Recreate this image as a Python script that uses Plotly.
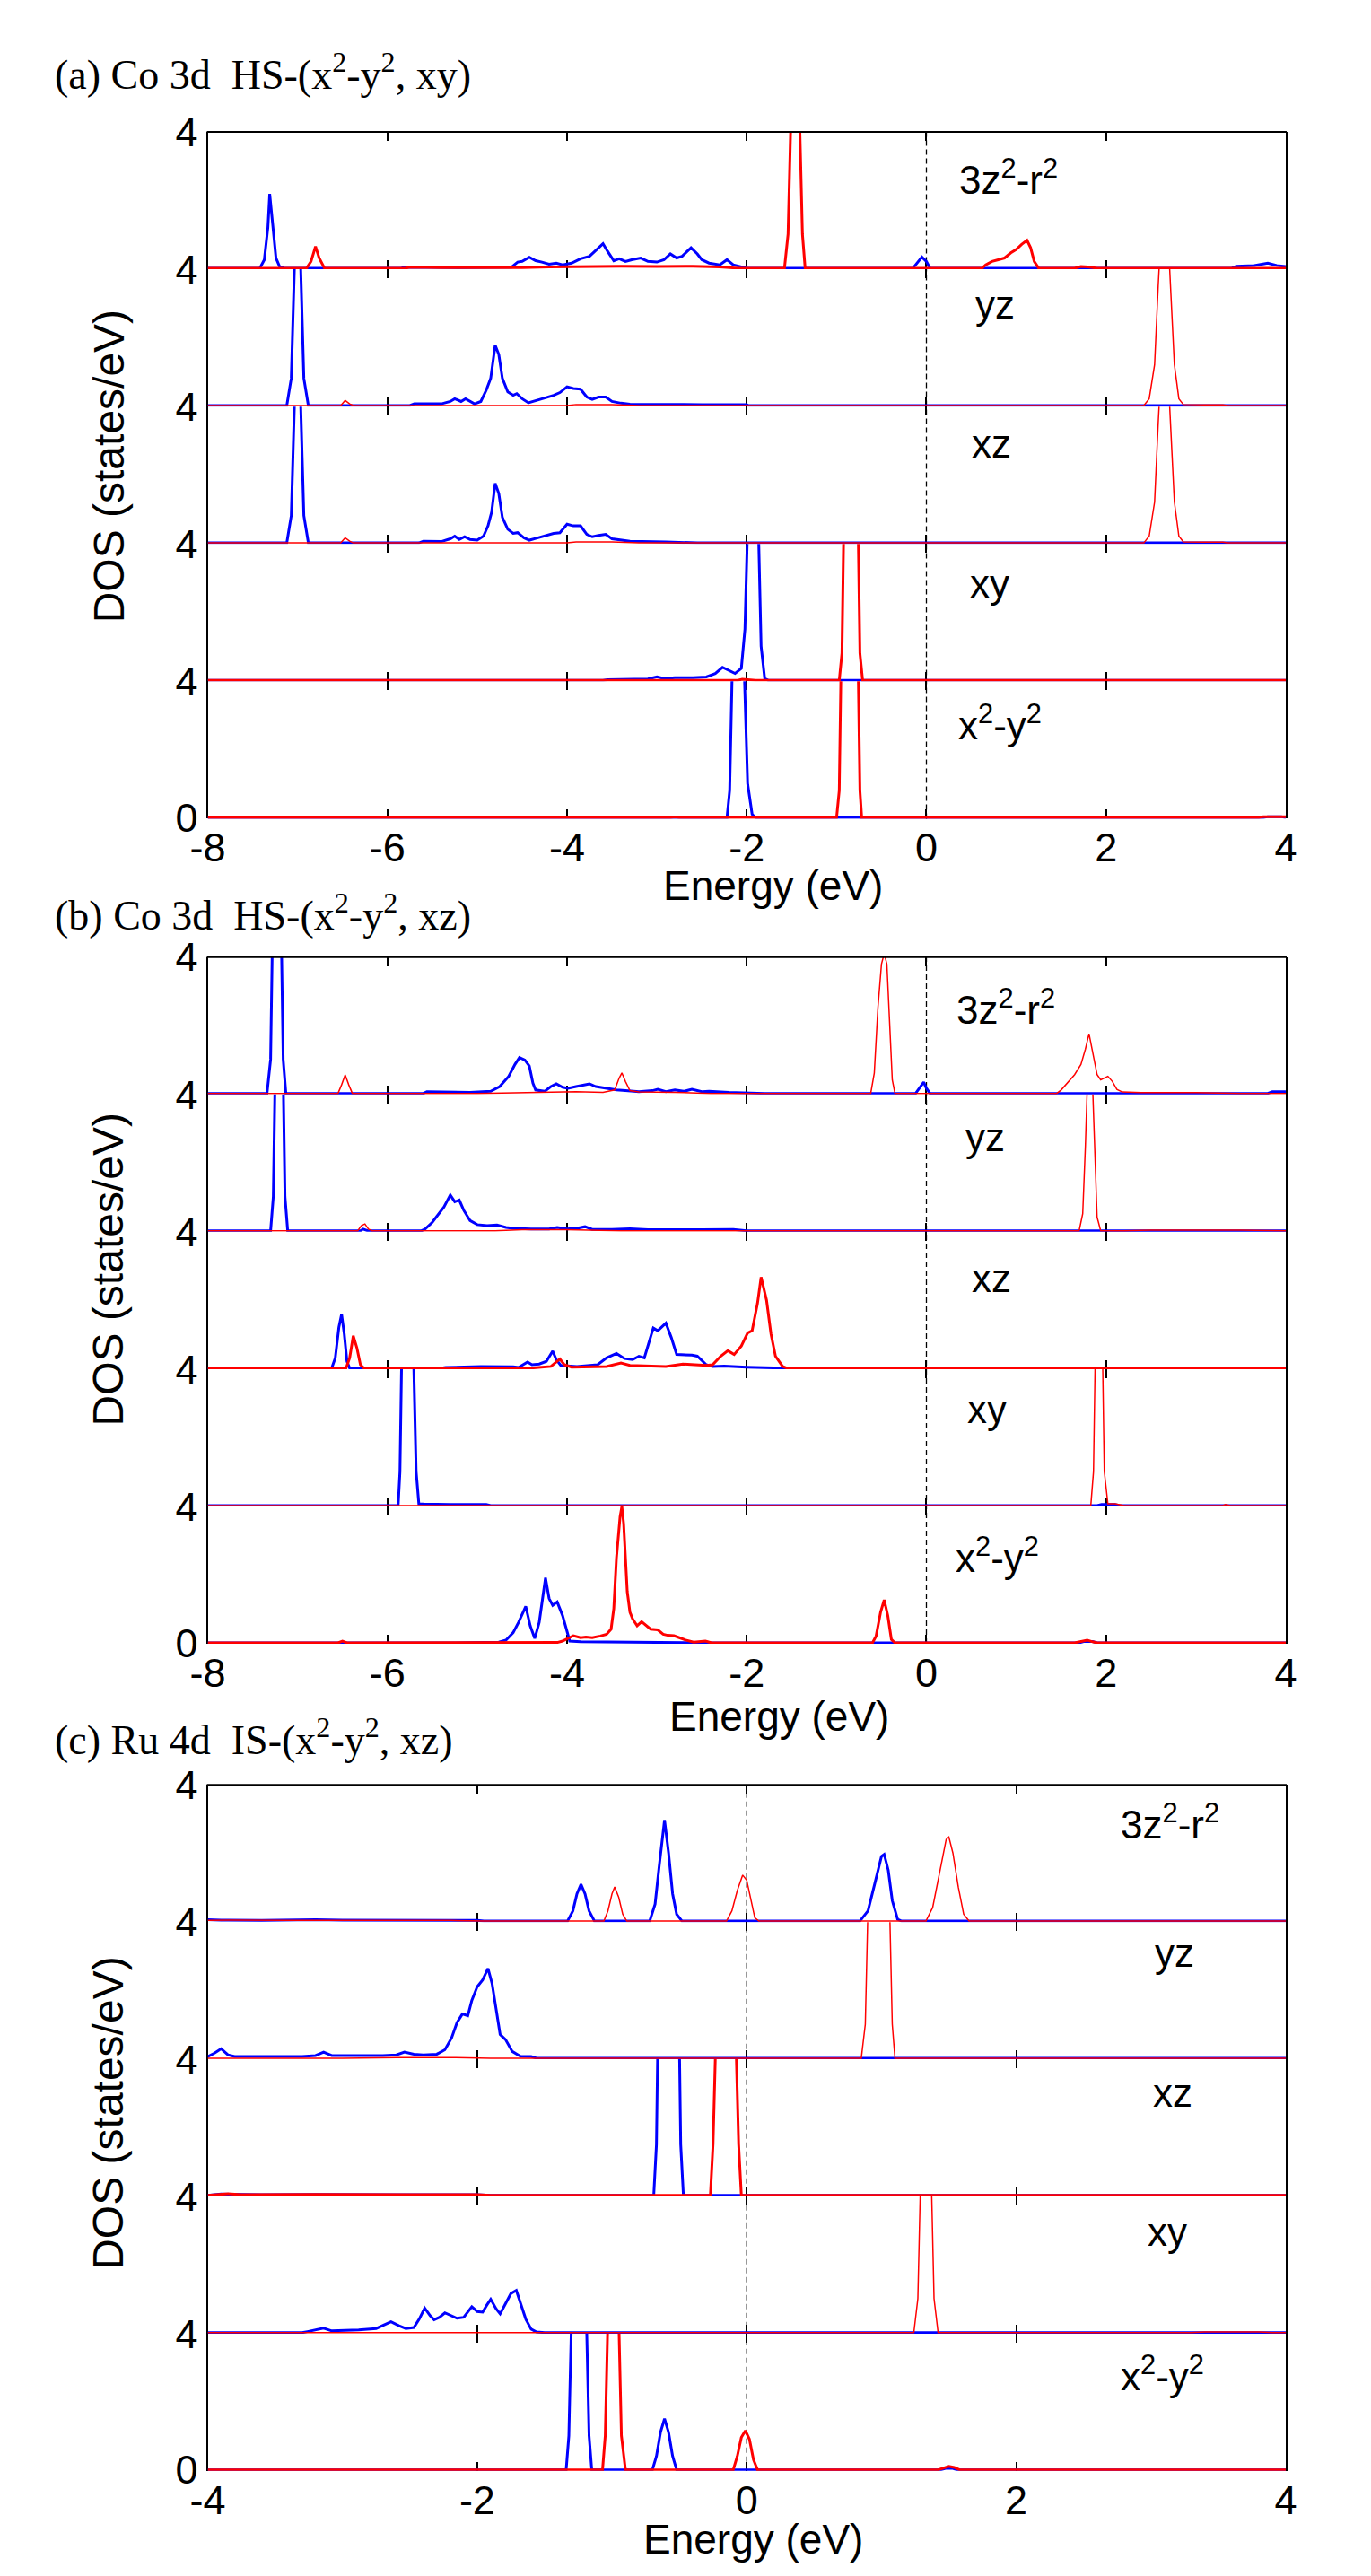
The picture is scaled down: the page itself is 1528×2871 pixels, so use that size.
import plotly.graph_objects as go

# ---------------- data (energy in eV, DOS in states/eV) ----------------
ORBITALS = ["3z<sup>2</sup>-r<sup>2</sup>", "yz", "xz", "xy", "x<sup>2</sup>-y<sup>2</sup>"]
TITLES = [
    "(a) Co 3d\u00a0\u00a0HS-(x<sup>2</sup>-y<sup>2</sup>, xy)",
    "(b) Co 3d\u00a0\u00a0HS-(x<sup>2</sup>-y<sup>2</sup>, xz)",
    "(c) Ru 4d\u00a0\u00a0IS-(x<sup>2</sup>-y<sup>2</sup>, xz)",
]
X_TICKS_AB = [-8, -6, -4, -2, 0, 2, 4]
X_TICKS_C = [-4, -2, 0, 2, 4]
X_RANGE_AB = [-8, 4]
X_RANGE_C = [-4, 4]
Y_RANGE = [0, 4]
X_LABEL = "Energy (eV)"
Y_LABEL = "DOS (states/eV)"

# ---- panel (a) Co 3d HS-(x2-y2, xy) ----
A_3Z2_BLUE = [(-8, 0), (-7.42, 0), (-7.37, 0.25), (-7.33, 1.2), (-7.31, 2.18), (-7.28, 1.3), (-7.24, 0.3),
              (-7.2, 0.05), (-7.15, 0), (-5.85, 0), (-5.8, 0.03), (-5.2, 0.02), (-4.62, 0.03), (-4.55, 0.18),
              (-4.5, 0.2), (-4.42, 0.32), (-4.35, 0.22), (-4.28, 0.18), (-4.2, 0.12), (-4.12, 0.15), (-4.05, 0.1),
              (-3.95, 0.15), (-3.85, 0.28), (-3.75, 0.35), (-3.65, 0.6), (-3.6, 0.72), (-3.55, 0.5), (-3.48, 0.22),
              (-3.42, 0.28), (-3.35, 0.2), (-3.28, 0.25), (-3.18, 0.3), (-3.1, 0.2), (-3.0, 0.18), (-2.92, 0.25),
              (-2.85, 0.42), (-2.78, 0.3), (-2.72, 0.35), (-2.62, 0.6), (-2.55, 0.42), (-2.5, 0.25), (-2.42, 0.15),
              (-2.3, 0.1), (-2.22, 0.25), (-2.15, 0.1), (-2.05, 0.02), (-2.0, 0), (-0.15, 0), (-0.1, 0.15),
              (-0.05, 0.33), (0.0, 0.2), (0.04, 0), (3.4, 0), (3.45, 0.06), (3.65, 0.08), (3.8, 0.15), (3.9, 0.08),
              (4, 0.05)]
A_3Z2_RED = [(-8, 0), (-6.9, 0), (-6.85, 0.2), (-6.8, 0.64), (-6.76, 0.3), (-6.7, 0), (-5.8, 0), (-5.75, 0.03),
             (-5.4, 0.02), (-4.5, 0.02), (-4.2, 0.04), (-3.8, 0.05), (-3.4, 0.06), (-3.0, 0.05), (-2.6, 0.06),
             (-2.3, 0.04), (-2.1, 0), (-1.58, 0), (-1.54, 1.0), (-1.51, 4.2), (-1.46, 4.8), (-1.41, 4.2),
             (-1.38, 1.0), (-1.35, 0), (0.62, 0), (0.66, 0.1), (0.73, 0.2), (0.8, 0.25), (0.87, 0.3), (0.94, 0.45),
             (1.0, 0.55), (1.06, 0.7), (1.12, 0.82), (1.16, 0.6), (1.2, 0.2), (1.25, 0), (1.65, 0), (1.72, 0.05),
             (1.8, 0.04), (1.9, 0), (4, 0)]
A_YZ_BLUE = [(-8, 0), (-7.12, 0), (-7.07, 0.8), (-7.03, 4.5), (-7.0, 6.0), (-6.97, 4.5), (-6.93, 0.8), (-6.88, 0),
             (-5.75, 0), (-5.7, 0.05), (-5.4, 0.05), (-5.3, 0.12), (-5.25, 0.2), (-5.18, 0.12), (-5.13, 0.2),
             (-5.08, 0.12), (-5.03, 0.05), (-4.96, 0.12), (-4.9, 0.45), (-4.85, 0.8), (-4.8, 1.77), (-4.76, 1.5),
             (-4.72, 0.8), (-4.66, 0.4), (-4.6, 0.3), (-4.56, 0.35), (-4.5, 0.2), (-4.43, 0.08), (-4.35, 0.15),
             (-4.25, 0.22), (-4.15, 0.3), (-4.08, 0.38), (-4.0, 0.55), (-3.93, 0.5), (-3.85, 0.48), (-3.78, 0.25),
             (-3.72, 0.18), (-3.65, 0.25), (-3.57, 0.25), (-3.5, 0.12), (-3.4, 0.07), (-3.3, 0.04), (-2.5, 0.03),
             (-2.0, 0.03), (-1.98, 0), (4, 0)]
A_YZ_RED = [(-8, 0), (-6.52, 0), (-6.47, 0.15), (-6.42, 0.05), (-6.38, 0), (-4.0, 0), (-3.9, 0.03), (-3.5, 0.03),
            (-3.2, 0), (2.42, 0), (2.48, 0.2), (2.54, 1.2), (2.58, 3.5), (2.62, 5.5), (2.68, 5.5), (2.72, 3.5),
            (2.76, 1.2), (2.81, 0.2), (2.86, 0.03), (3.1, 0.02), (3.3, 0.02), (3.35, 0), (4, 0)]
A_XZ_BLUE = [(-8, 0), (-7.12, 0), (-7.07, 0.8), (-7.03, 4.5), (-7.0, 6.0), (-6.97, 4.5), (-6.93, 0.8), (-6.88, 0),
             (-5.65, 0), (-5.6, 0.05), (-5.4, 0.04), (-5.3, 0.12), (-5.25, 0.2), (-5.2, 0.1), (-5.14, 0.18),
             (-5.08, 0.1), (-5.0, 0.08), (-4.93, 0.2), (-4.88, 0.5), (-4.84, 0.9), (-4.8, 1.75), (-4.76, 1.45),
             (-4.72, 0.75), (-4.66, 0.4), (-4.6, 0.28), (-4.55, 0.3), (-4.48, 0.15), (-4.42, 0.08), (-4.35, 0.13),
             (-4.25, 0.2), (-4.15, 0.28), (-4.08, 0.3), (-4.0, 0.55), (-3.93, 0.5), (-3.85, 0.5), (-3.78, 0.25),
             (-3.72, 0.18), (-3.65, 0.22), (-3.57, 0.25), (-3.5, 0.12), (-3.4, 0.08), (-3.3, 0.05), (-2.9, 0.03),
             (-2.6, 0.02), (-2.55, 0), (4, 0)]
A_XZ_RED = [(-8, 0), (-6.52, 0), (-6.47, 0.15), (-6.42, 0.05), (-6.38, 0), (-4.0, 0), (-3.9, 0.03), (-3.5, 0.03),
            (-3.2, 0), (2.42, 0), (2.48, 0.2), (2.54, 1.2), (2.58, 3.5), (2.62, 5.5), (2.68, 5.5), (2.72, 3.5),
            (2.76, 1.2), (2.81, 0.2), (2.86, 0.03), (3.1, 0.02), (3.3, 0.02), (3.35, 0), (4, 0)]
A_XY_BLUE = [(-8, 0), (-3.6, 0), (-3.55, 0.02), (-3.1, 0.04), (-3.0, 0.1), (-2.92, 0.05), (-2.8, 0.08),
             (-2.6, 0.08), (-2.45, 0.1), (-2.35, 0.2), (-2.27, 0.38), (-2.2, 0.3), (-2.13, 0.2), (-2.06, 0.35),
             (-2.02, 1.5), (-1.99, 4.5), (-1.96, 6.0), (-1.9, 6.0), (-1.87, 4.5), (-1.84, 1.0), (-1.8, 0.05),
             (-1.76, 0), (4, 0)]
A_XY_RED = [(-8, 0), (-2.1, 0), (-2.05, 0.03), (-1.9, 0), (-0.97, 0), (-0.94, 0.8), (-0.92, 4.5), (-0.88, 6.0),
            (-0.8, 6.0), (-0.76, 4.5), (-0.74, 0.8), (-0.71, 0), (4, 0)]
A_X2Y2_BLUE = [(-8, 0), (-2.22, 0), (-2.19, 0.8), (-2.16, 4.5), (-2.13, 6.0), (-2.06, 6.0), (-2.03, 4.5),
               (-1.99, 1.0), (-1.94, 0.1), (-1.9, 0), (3.75, 0), (3.8, 0.03), (3.95, 0.03), (4, 0)]
A_X2Y2_RED = [(-8, 0), (-2.85, 0), (-2.8, 0.02), (-2.75, 0), (-1.0, 0), (-0.97, 0.8), (-0.95, 4.5), (-0.91, 6.0),
              (-0.8, 6.0), (-0.76, 4.5), (-0.74, 0.8), (-0.72, 0), (3.7, 0), (3.75, 0.03), (4, 0.03)]

# ---- panel (b) Co 3d HS-(x2-y2, xz) ----
B_3Z2_BLUE = [(-8, 0), (-7.34, 0), (-7.3, 1.0), (-7.28, 4.5), (-7.26, 6.0), (-7.2, 6.0), (-7.18, 4.5),
              (-7.16, 1.0), (-7.13, 0), (-5.6, 0), (-5.56, 0.05), (-5.3, 0.04), (-5.08, 0.03), (-4.85, 0.06),
              (-4.75, 0.2), (-4.65, 0.5), (-4.58, 0.85), (-4.53, 1.05), (-4.47, 0.98), (-4.42, 0.8), (-4.38, 0.3),
              (-4.35, 0.1), (-4.25, 0.06), (-4.18, 0.2), (-4.12, 0.28), (-4.05, 0.18), (-3.99, 0.15), (-3.9, 0.2),
              (-3.85, 0.22), (-3.75, 0.28), (-3.68, 0.2), (-3.56, 0.15), (-3.45, 0.1), (-3.35, 0.08), (-3.2, 0.05),
              (-3.05, 0.08), (-2.99, 0.12), (-2.9, 0.05), (-2.8, 0.1), (-2.7, 0.06), (-2.61, 0.12), (-2.5, 0.05),
              (-2.42, 0.06), (-2.2, 0.03), (-1.85, 0.02), (-1.8, 0), (-0.12, 0), (-0.07, 0.2), (-0.03, 0.33),
              (0.0, 0.15), (0.04, 0), (3.8, 0), (3.85, 0.05), (4, 0.05)]
B_3Z2_RED = [(-8, 0), (-6.55, 0), (-6.51, 0.25), (-6.47, 0.54), (-6.43, 0.25), (-6.39, 0), (-5.0, 0),
             (-4.5, 0.02), (-4.2, 0.04), (-3.9, 0.05), (-3.6, 0.03), (-3.47, 0.1), (-3.42, 0.45), (-3.39, 0.6),
             (-3.35, 0.35), (-3.3, 0.08), (-3.2, 0.04), (-2.8, 0.03), (-2.4, 0), (-0.62, 0), (-0.58, 0.6),
             (-0.54, 2.5), (-0.5, 3.8), (-0.47, 4.1), (-0.44, 3.8), (-0.41, 2.0), (-0.38, 0.4), (-0.35, 0),
             (1.45, 0), (1.5, 0.1), (1.58, 0.35), (1.65, 0.55), (1.72, 0.85), (1.77, 1.3), (1.81, 1.75),
             (1.85, 1.2), (1.9, 0.55), (1.94, 0.4), (1.98, 0.45), (2.02, 0.5), (2.07, 0.35), (2.12, 0.12),
             (2.18, 0.04), (2.4, 0.02), (3.0, 0.02), (3.5, 0), (4, 0)]
B_YZ_BLUE = [(-8, 0), (-7.3, 0), (-7.27, 1.0), (-7.25, 4.5), (-7.23, 6.0), (-7.18, 6.0), (-7.16, 4.5),
             (-7.14, 1.0), (-7.11, 0), (-6.3, 0), (-6.27, 0.05), (-6.22, 0), (-5.62, 0), (-5.58, 0.05),
             (-5.5, 0.25), (-5.44, 0.45), (-5.37, 0.7), (-5.3, 1.05), (-5.25, 0.85), (-5.2, 0.9), (-5.15, 0.6),
             (-5.08, 0.3), (-5.0, 0.18), (-4.89, 0.15), (-4.78, 0.17), (-4.68, 0.1), (-4.6, 0.07), (-4.4, 0.05),
             (-4.2, 0.05), (-4.11, 0.1), (-4.0, 0.05), (-3.88, 0.08), (-3.8, 0.12), (-3.72, 0.04), (-3.5, 0.04),
             (-3.3, 0.06), (-3.1, 0.03), (-2.5, 0.03), (-2.15, 0.04), (-2.0, 0), (4, 0)]
B_YZ_RED = [(-8, 0), (-6.33, 0), (-6.29, 0.15), (-6.25, 0.2), (-6.21, 0.05), (-6.17, 0), (-4.8, 0), (-4.5, 0.03),
            (-4.0, 0.03), (-3.6, 0.02), (-3.4, 0), (1.7, 0), (1.74, 0.5), (1.77, 2.5), (1.8, 5.0), (1.84, 5.0),
            (1.87, 2.5), (1.9, 0.4), (1.94, 0), (2.2, 0), (2.5, 0.02), (3.5, 0.02), (4, 0)]
B_XZ_BLUE = [(-8, 0), (-6.62, 0), (-6.58, 0.3), (-6.54, 1.2), (-6.51, 1.58), (-6.48, 1.0), (-6.45, 0.2),
             (-6.42, 0), (-5.4, 0), (-5.35, 0.02), (-4.96, 0.05), (-4.77, 0.05), (-4.6, 0.04), (-4.54, 0.02),
             (-4.44, 0.18), (-4.39, 0.1), (-4.31, 0.12), (-4.23, 0.2), (-4.16, 0.5), (-4.12, 0.25),
             (-4.07, 0.08), (-3.89, 0.05), (-3.76, 0.08), (-3.66, 0.1), (-3.56, 0.3), (-3.45, 0.43),
             (-3.36, 0.28), (-3.27, 0.25), (-3.2, 0.35), (-3.14, 0.3), (-3.04, 1.18), (-2.99, 1.1), (-2.9, 1.32),
             (-2.84, 0.9), (-2.78, 0.4), (-2.61, 0.38), (-2.55, 0.35), (-2.45, 0.1), (-2.38, 0.05),
             (-2.25, 0.06), (-2.0, 0.03), (-1.6, 0), (4, 0)]
B_XZ_RED = [(-8, 0), (-6.46, 0), (-6.42, 0.3), (-6.38, 0.95), (-6.34, 0.6), (-6.3, 0.1), (-6.26, 0), (-4.41, 0),
            (-4.18, 0.05), (-4.08, 0.27), (-4.03, 0.1), (-3.95, 0.03), (-3.56, 0.05), (-3.4, 0.15), (-3.3, 0.08),
            (-2.9, 0.05), (-2.71, 0.12), (-2.58, 0.1), (-2.45, 0.08), (-2.38, 0.1), (-2.29, 0.35),
            (-2.21, 0.51), (-2.14, 0.4), (-2.06, 0.65), (-1.99, 1.03), (-1.94, 1.1), (-1.88, 1.9),
            (-1.84, 2.67), (-1.78, 2.0), (-1.73, 1.0), (-1.68, 0.35), (-1.6, 0.05), (-1.55, 0), (4, 0)]
B_XY_BLUE = [(-8, 0), (-5.88, 0), (-5.86, 1.0), (-5.84, 4.5), (-5.82, 6.0), (-5.73, 6.0), (-5.71, 4.5),
             (-5.68, 1.0), (-5.65, 0.05), (-5.6, 0.04), (-5.3, 0.03), (-4.9, 0.03), (-4.85, 0), (1.9, 0),
             (1.95, 0.03), (2.1, 0.03), (2.15, 0), (4, 0)]
B_XY_RED = [(-8, 0), (1.83, 0), (1.86, 1.0), (1.88, 4.5), (1.9, 6.0), (1.94, 6.0), (1.96, 4.5), (1.98, 1.0),
            (2.02, 0.05), (2.1, 0.05), (2.2, 0), (3.3, 0), (3.33, 0.03), (3.38, 0), (4, 0)]
B_X2Y2_BLUE = [(-8, 0), (-5.25, 0), (-4.76, 0.02), (-4.68, 0.08), (-4.6, 0.3), (-4.54, 0.6), (-4.46, 1.07),
               (-4.41, 0.5), (-4.36, 0.13), (-4.31, 0.6), (-4.24, 1.91), (-4.2, 1.3), (-4.16, 1.1), (-4.11, 1.2),
               (-4.05, 0.8), (-4.0, 0.3), (-3.97, 0.05), (-3.85, 0.03), (-3.46, 0.02), (-2.42, 0),
               (1.7, 0), (1.75, 0.04), (1.85, 0.04), (1.9, 0), (4, 0)]
B_X2Y2_RED = [(-8, 0), (-6.55, 0), (-6.5, 0.05), (-6.45, 0), (-4.11, 0.01), (-4.05, 0.05), (-3.93, 0.21),
              (-3.85, 0.15), (-3.79, 0.17), (-3.72, 0.15), (-3.63, 0.2), (-3.56, 0.25), (-3.51, 0.4),
              (-3.48, 1.0), (-3.45, 2.5), (-3.41, 3.7), (-3.39, 4.0), (-3.37, 3.5), (-3.33, 1.5), (-3.3, 0.9),
              (-3.27, 0.7), (-3.22, 0.5), (-3.17, 0.62), (-3.12, 0.5), (-3.07, 0.4), (-2.99, 0.38),
              (-2.93, 0.25), (-2.88, 0.22), (-2.81, 0.21), (-2.75, 0.15), (-2.68, 0.08), (-2.59, 0.02),
              (-2.46, 0.05), (-2.39, 0), (-0.6, 0), (-0.56, 0.2), (-0.51, 0.9), (-0.47, 1.26), (-0.43, 0.8),
              (-0.39, 0.1), (-0.35, 0), (1.65, 0), (1.72, 0.05), (1.79, 0.08), (1.85, 0.03), (1.9, 0), (4, 0)]

# ---- panel (c) Ru 4d IS-(x2-y2, xz) ----
C_3Z2_BLUE = [(-4, 0.04), (-3.9, 0.03), (-3.6, 0.02), (-3.2, 0.04), (-3.0, 0.03), (-2.6, 0.03), (-2.2, 0.02),
              (-2.0, 0.02), (-1.95, 0), (-1.33, 0), (-1.29, 0.3), (-1.26, 0.8), (-1.23, 1.08), (-1.2, 0.8),
              (-1.17, 0.3), (-1.13, 0), (-0.72, 0), (-0.68, 0.5), (-0.65, 1.6), (-0.61, 2.97), (-0.58, 2.0),
              (-0.55, 0.8), (-0.52, 0.2), (-0.48, 0), (0.84, 0), (0.9, 0.3), (0.95, 1.1), (1.0, 1.9),
              (1.02, 1.96), (1.05, 1.5), (1.08, 0.6), (1.12, 0.05), (1.15, 0), (4, 0)]
C_3Z2_RED = [(-4, 0.02), (-3.8, 0.03), (-3.4, 0.02), (-3.0, 0.02), (-2.6, 0.03), (-2.2, 0.02), (-1.95, 0),
             (-1.06, 0), (-1.03, 0.3), (-1.0, 0.8), (-0.98, 1.0), (-0.95, 0.7), (-0.92, 0.2), (-0.89, 0),
             (-0.15, 0), (-0.11, 0.3), (-0.07, 0.9), (-0.03, 1.35), (0.0, 1.2), (0.03, 0.6), (0.06, 0.1),
             (0.09, 0), (1.33, 0), (1.38, 0.4), (1.43, 1.4), (1.48, 2.4), (1.5, 2.47), (1.53, 2.0), (1.57, 1.0),
             (1.61, 0.2), (1.65, 0), (4, 0)]
C_YZ_BLUE = [(-4, 0.05), (-3.95, 0.15), (-3.9, 0.28), (-3.85, 0.1), (-3.8, 0.05), (-3.6, 0.05), (-3.3, 0.05),
             (-3.2, 0.08), (-3.14, 0.18), (-3.08, 0.08), (-2.9, 0.08), (-2.7, 0.08), (-2.6, 0.1), (-2.54, 0.18),
             (-2.47, 0.12), (-2.4, 0.1), (-2.3, 0.12), (-2.24, 0.25), (-2.19, 0.6), (-2.15, 1.05), (-2.11, 1.3),
             (-2.07, 1.25), (-2.04, 1.7), (-2.0, 2.1), (-1.96, 2.3), (-1.92, 2.64), (-1.89, 2.2), (-1.86, 1.4),
             (-1.83, 0.7), (-1.79, 0.55), (-1.74, 0.2), (-1.68, 0.06), (-1.6, 0.05), (-1.56, 0), (4, 0)]
C_YZ_RED = [(-4, 0), (-3.0, 0), (-2.6, 0.02), (-2.2, 0.02), (-1.9, 0), (0.85, 0), (0.88, 1.0), (0.9, 4.5),
            (0.92, 6.0), (1.04, 6.0), (1.06, 4.5), (1.08, 1.0), (1.1, 0), (4, 0)]
C_XZ_BLUE = [(-4, 0), (-3.9, 0.04), (-3.6, 0.02), (-3.2, 0.03), (-2.6, 0.02), (-2.0, 0.02), (-1.9, 0),
             (-0.69, 0), (-0.67, 1.5), (-0.66, 4.5), (-0.64, 6.0), (-0.52, 6.0), (-0.5, 4.5), (-0.49, 1.5),
             (-0.47, 0), (4, 0)]
C_XZ_RED = [(-4, 0), (-3.85, 0.05), (-3.75, 0.02), (-3.2, 0.03), (-2.5, 0.02), (-2.0, 0.02), (-1.9, 0),
            (-0.27, 0), (-0.25, 1.5), (-0.23, 4.5), (-0.21, 6.0), (-0.1, 6.0), (-0.08, 4.5), (-0.06, 1.5),
            (-0.04, 0), (4, 0)]
C_XY_BLUE = [(-4, 0), (-3.3, 0), (-3.26, 0.03), (-3.19, 0.08), (-3.14, 0.13), (-3.08, 0.05), (-2.95, 0.06),
             (-2.88, 0.08), (-2.75, 0.12), (-2.68, 0.25), (-2.64, 0.32), (-2.58, 0.2), (-2.53, 0.12),
             (-2.47, 0.15), (-2.43, 0.4), (-2.39, 0.72), (-2.35, 0.5), (-2.32, 0.38), (-2.28, 0.45),
             (-2.24, 0.58), (-2.2, 0.5), (-2.15, 0.42), (-2.1, 0.45), (-2.07, 0.6), (-2.04, 0.76), (-2.0, 0.62),
             (-1.96, 0.6), (-1.93, 0.8), (-1.9, 0.98), (-1.86, 0.7), (-1.83, 0.55), (-1.79, 0.85), (-1.75, 1.15),
             (-1.71, 1.24), (-1.68, 0.9), (-1.64, 0.4), (-1.6, 0.1), (-1.56, 0.02), (-1.5, 0), (4, 0)]
C_XY_RED = [(-4, 0), (1.24, 0), (1.27, 1.0), (1.29, 4.5), (1.31, 6.0), (1.35, 6.0), (1.37, 4.5), (1.39, 1.0),
            (1.42, 0), (3.3, 0), (3.4, 0.02), (3.8, 0.02), (3.9, 0), (4, 0)]
C_X2Y2_BLUE = [(-4, 0), (-1.34, 0), (-1.32, 1.0), (-1.3, 4.5), (-1.28, 6.0), (-1.21, 6.0), (-1.19, 4.5),
               (-1.17, 1.0), (-1.15, 0), (-0.7, 0), (-0.67, 0.4), (-0.64, 1.1), (-0.61, 1.5), (-0.58, 1.1),
               (-0.55, 0.4), (-0.52, 0), (1.44, 0), (1.48, 0.05), (1.53, 0.04), (1.56, 0), (4, 0)]
C_X2Y2_RED = [(-4, 0), (-1.07, 0), (-1.05, 1.0), (-1.03, 4.5), (-1.01, 6.0), (-0.97, 6.0), (-0.95, 4.5),
              (-0.93, 1.0), (-0.9, 0), (-0.1, 0), (-0.07, 0.4), (-0.04, 0.95), (-0.01, 1.15), (0.02, 0.9),
              (0.05, 0.3), (0.08, 0), (1.42, 0), (1.46, 0.06), (1.5, 0.1), (1.54, 0.07), (1.58, 0), (4, 0)]

# ---------------- layout / style ----------------
W, H = 1528, 2871
X0_PX, X1_PX = 208, 1436
PANEL_TOP = [116, 1052, 1991]
PANEL_BOT = [895, 1831, 2769]
BLUE, RED = "#0000ff", "#ff0000"
THICK, THIN = 3.0, 1.5
ARIAL = "Arial, 'Liberation Sans', Helvetica, sans-serif"
TIMES = "'Times New Roman', 'Liberation Serif', Times, serif"

panels = [
    dict(series=[(A_3Z2_BLUE, A_3Z2_RED), (A_YZ_BLUE, A_YZ_RED), (A_XZ_BLUE, A_XZ_RED),
                 (A_XY_BLUE, A_XY_RED), (A_X2Y2_BLUE, A_X2Y2_RED)],
         red_w=[THICK, THIN, THIN, THICK, THICK], xr=X_RANGE_AB, ticks=X_TICKS_AB,
         labels=[(1062, 167), (1080, 312), (1076, 470), (1074, 628), (1061, 786)],
         xlab=(852, 971), ylab=(95, 495), title=(32, 48)),
    dict(series=[(B_3Z2_BLUE, B_3Z2_RED), (B_YZ_BLUE, B_YZ_RED), (B_XZ_BLUE, B_XZ_RED),
                 (B_XY_BLUE, B_XY_RED), (B_X2Y2_BLUE, B_X2Y2_RED)],
         red_w=[THIN, THIN, THICK, THIN, THICK], xr=X_RANGE_AB, ticks=X_TICKS_AB,
         labels=[(1059, 1109), (1069, 1256), (1076, 1416), (1071, 1565), (1058, 1731)],
         xlab=(859, 1913), ylab=(95, 1406), title=(32, 1001)),
    dict(series=[(C_3Z2_BLUE, C_3Z2_RED), (C_YZ_BLUE, C_YZ_RED), (C_XZ_BLUE, C_XZ_RED),
                 (C_XY_BLUE, C_XY_RED), (C_X2Y2_BLUE, C_X2Y2_RED)],
         red_w=[THIN, THIN, THICK, THIN, THICK], xr=X_RANGE_C, ticks=X_TICKS_C,
         labels=[(1246, 2033), (1285, 2182), (1283, 2340), (1277, 2498), (1246, 2659)],
         xlab=(829, 2847), ylab=(95, 2363), title=(32, 1937)),
]


def py(y):
    return 1 - y / H


def px(x):
    return x / W


fig = go.Figure()
layout = {}
annotations = []
shapes = []

for p, pan in enumerate(panels):
    top, bot = PANEL_TOP[p], PANEL_BOT[p]
    hsub = (bot - top) / 5.0
    for i in range(5):
        k = p * 5 + i + 1
        xa = "x" if k == 1 else f"x{k}"
        ya = "y" if k == 1 else f"y{k}"
        xkey = "xaxis" if k == 1 else f"xaxis{k}"
        ykey = "yaxis" if k == 1 else f"yaxis{k}"
        blue, red = pan["series"][i]
        fig.add_trace(go.Scatter(x=[e for e, d in blue], y=[d for e, d in blue], mode="lines",
                                 line=dict(color=BLUE, width=THICK), xaxis=xa, yaxis=ya,
                                 showlegend=False, hoverinfo="skip"))
        fig.add_trace(go.Scatter(x=[e for e, d in red], y=[d for e, d in red], mode="lines",
                                 line=dict(color=RED, width=pan["red_w"][i]), xaxis=xa, yaxis=ya,
                                 showlegend=False, hoverinfo="skip"))
        st = top + i * hsub
        sb = st + hsub
        last = (i == 4)
        # horizontal frame edges are formed by the zero lines of the data (as in the original)
        layout[xkey] = dict(domain=[px(X0_PX), px(X1_PX)], anchor=ya, range=pan["xr"],
                            tickmode="array", tickvals=pan["ticks"],
                            ticktext=[str(t) for t in pan["ticks"]],
                            showticklabels=last, ticks="inside", ticklen=10, tickwidth=2,
                            tickcolor="black", showline=True, linecolor="rgba(0,0,0,0)", linewidth=1,
                            mirror="allticks", showgrid=False, zeroline=False, layer="below traces",
                            tickfont=dict(family=ARIAL, size=45, color="black"),
                            ticklabelstandoff=-7)
        yt = [0, 4] if last else [4]
        layout[ykey] = dict(domain=[py(sb), py(st)], anchor=xa, range=[-0.03, Y_RANGE[1]],
                            tickmode="array", tickvals=yt, ticktext=[str(t) for t in yt],
                            ticks="", showline=True, linecolor="black", linewidth=2, mirror=True,
                            showgrid=False, zeroline=False, layer="below traces",
                            tickfont=dict(family=ARIAL, size=45, color="black"),
                            ticklabelstandoff=0)
        lx, ly = pan["labels"][i]
        annotations.append(dict(text=ORBITALS[i], x=px(lx), y=py(ly), xref="paper", yref="paper",
                                xanchor="left", yanchor="middle", showarrow=False,
                                font=dict(family=ARIAL, size=44, color="black")))
    # top frame of each panel, drawn black as in the reference
    xa_top = "x" if p == 0 else f"x{p * 5 + 1}"
    shapes.append(dict(type="line", xref="paper", yref="paper", x0=px(X0_PX - 1), x1=px(X1_PX + 1),
                       y0=py(top), y1=py(top), line=dict(color="black", width=2), layer="above"))
    # Fermi level dashed line
    shapes.append(dict(type="line", xref=xa_top, yref="paper", x0=0, x1=0, y0=py(bot), y1=py(top),
                       line=dict(color="black", width=1.3, dash="6px,4px"), layer="below"))
    annotations.append(dict(text=X_LABEL, x=px(pan["xlab"][0]), y=py(pan["xlab"][1]), xref="paper",
                            yref="paper", xanchor="center", yanchor="middle", showarrow=False,
                            font=dict(family=ARIAL, size=46, color="black")))
    annotations.append(dict(text=Y_LABEL, x=px(pan["ylab"][0]), y=py(pan["ylab"][1]), xref="paper",
                            yref="paper", xanchor="center", yanchor="middle", showarrow=False,
                            textangle=-90, font=dict(family=ARIAL, size=48, color="black")))
    annotations.append(dict(text=TITLES[p], x=px(pan["title"][0]), y=py(pan["title"][1]), xref="paper",
                            yref="paper", xanchor="left", yanchor="middle", showarrow=False,
                            font=dict(family=TIMES, size=46, color="black")))

fig.update_layout(width=W, height=H, autosize=False, margin=dict(l=0, r=0, t=0, b=0),
                  paper_bgcolor="white", plot_bgcolor="white", showlegend=False,
                  annotations=annotations, shapes=shapes, **layout)

fig.write_html("out.html")
